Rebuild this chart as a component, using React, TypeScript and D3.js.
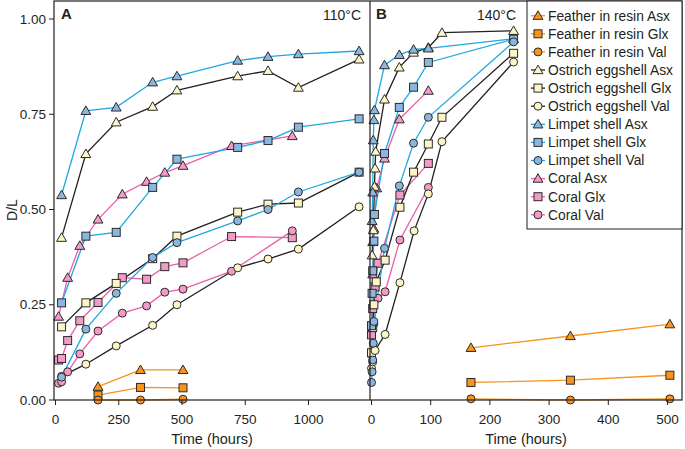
import React from 'react';
import * as d3 from 'd3';

type Pt = [number, number];

// ---------- Panel A (110°C) data: [time hours, D/L] ----------
const featherAsxA: Pt[] = [[168, 0.035], [336, 0.079], [504, 0.079]];
const featherGlxA: Pt[] = [[168, 0.013], [336, 0.033], [504, 0.032]];
const featherValA: Pt[] = [[168, 0.0], [336, 0.0], [504, 0.002]];
const ostrichAsxA: Pt[] = [[24, 0.426], [120, 0.646], [240, 0.729], [384, 0.77], [480, 0.813], [720, 0.85], [840, 0.864], [960, 0.82], [1200, 0.894]];
const ostrichGlxA: Pt[] = [[24, 0.192], [120, 0.255], [240, 0.306], [384, 0.371], [480, 0.43], [720, 0.493], [840, 0.514], [960, 0.517], [1200, 0.598]];
const ostrichValA: Pt[] = [[24, 0.062], [120, 0.094], [240, 0.142], [384, 0.196], [480, 0.25], [720, 0.347], [840, 0.37], [960, 0.396], [1200, 0.507]];
const limpetAsxA: Pt[] = [[24, 0.538], [120, 0.759], [240, 0.768], [384, 0.834], [480, 0.85], [720, 0.891], [840, 0.901], [960, 0.908], [1200, 0.916]];
const limpetGlxA: Pt[] = [[24, 0.255], [120, 0.43], [240, 0.44], [384, 0.558], [480, 0.632], [720, 0.663], [840, 0.681], [960, 0.716], [1200, 0.738]];
const limpetValA: Pt[] = [[24, 0.06], [120, 0.186], [240, 0.28], [384, 0.374], [480, 0.413], [720, 0.47], [840, 0.5], [960, 0.546], [1200, 0.598]];
const coralAsxA: Pt[] = [[12, 0.219], [48, 0.321], [96, 0.405], [168, 0.474], [264, 0.54], [360, 0.573], [432, 0.597], [504, 0.615], [696, 0.667], [936, 0.693]];
const coralGlxA: Pt[] = [[12, 0.105], [24, 0.109], [48, 0.156], [96, 0.208], [168, 0.256], [264, 0.321], [360, 0.317], [432, 0.35], [504, 0.36], [696, 0.429], [936, 0.426]];
const coralValA: Pt[] = [[12, 0.044], [24, 0.048], [48, 0.074], [96, 0.121], [168, 0.181], [264, 0.228], [360, 0.247], [432, 0.283], [504, 0.291], [696, 0.338], [936, 0.444]];

// ---------- Panel B (140°C) data ----------
const featherAsxB: Pt[] = [[168, 0.137], [336, 0.168], [504, 0.199]];
const featherGlxB: Pt[] = [[168, 0.046], [336, 0.052], [504, 0.065]];
const featherValB: Pt[] = [[168, 0.003], [336, 0.0], [504, 0.003]];
const ostrichAsxB: Pt[] = [[1, 0.38], [2, 0.415], [3, 0.446], [5, 0.56], [6, 0.608], [7, 0.652], [22, 0.789], [47, 0.873], [71, 0.912], [96, 0.925], [119, 0.964], [240, 0.969]];
const ostrichGlxB: Pt[] = [[0, 0.124], [2, 0.19], [4, 0.25], [8, 0.31], [23, 0.367], [48, 0.506], [71, 0.598], [96, 0.672], [119, 0.742], [240, 0.91]];
const ostrichValB: Pt[] = [[0, 0.083], [2, 0.1], [6, 0.13], [23, 0.172], [48, 0.308], [72, 0.444], [96, 0.541], [119, 0.678], [240, 0.887]];
const limpetAsxB: Pt[] = [[1, 0.47], [2, 0.545], [3, 0.682], [4, 0.735], [5, 0.761], [22, 0.879], [47, 0.906], [71, 0.92], [96, 0.923], [240, 0.948]];
const limpetGlxB: Pt[] = [[0, 0.195], [1, 0.28], [2, 0.339], [4, 0.417], [5, 0.487], [22, 0.647], [47, 0.768], [71, 0.821], [96, 0.886], [240, 0.947]];
const limpetValB: Pt[] = [[0, 0.046], [1, 0.074], [2, 0.105], [3, 0.149], [4, 0.206], [22, 0.398], [47, 0.562], [71, 0.674], [96, 0.742], [240, 0.94]];
const coralAsxB: Pt[] = [[2, 0.33], [4, 0.45], [9, 0.556], [22, 0.634], [47, 0.737], [96, 0.812]];
const coralGlxB: Pt[] = [[0, 0.171], [2, 0.24], [6, 0.297], [11, 0.359], [48, 0.538], [96, 0.621]];
const coralValB: Pt[] = [[0, 0.12], [4, 0.2], [11, 0.267], [23, 0.284], [48, 0.42], [96, 0.558]];

const seriesNames = [
  'Feather in resin Asx', 'Feather in resin Glx', 'Feather in resin Val',
  'Ostrich eggshell Asx', 'Ostrich eggshell Glx', 'Ostrich eggshell Val',
  'Limpet shell Asx', 'Limpet shell Glx', 'Limpet shell Val',
  'Coral Asx', 'Coral Glx', 'Coral Val',
];
const panelAData: Pt[][] = [featherAsxA, featherGlxA, featherValA, ostrichAsxA, ostrichGlxA, ostrichValA, limpetAsxA, limpetGlxA, limpetValA, coralAsxA, coralGlxA, coralValA];
const panelBData: Pt[][] = [featherAsxB, featherGlxB, featherValB, ostrichAsxB, ostrichGlxB, ostrichValB, limpetAsxB, limpetGlxB, limpetValB, coralAsxB, coralGlxB, coralValB];

const yTicks = [0, 0.25, 0.5, 0.75, 1];
const xTicksA = [0, 250, 500, 750, 1000];
const xTicksB = [0, 100, 200, 300, 400, 500];

// styles
const lineColors = ['#F7941D', '#231F20', '#1FA8E0', '#EC5FA6'];
const fillColors = ['#F7941D', '#FDF5C6', '#8BB6DF', '#F39AC7'];
const shapes = ['tri', 'sq', 'circ'];
const drawOrder = [0, 1, 2, 9, 10, 11, 3, 4, 5, 6, 7, 8];

const FONT = '"Liberation Sans", Arial, Helvetica, sans-serif';

const yScale = d3.scaleLinear().domain([0, 1]).range([400, 19]);
const xA = d3.scaleLinear().domain([0, 1000]).range([55.5, 308.5]);
const xB = d3.scaleLinear().domain([0, 500]).range([371.5, 667.5]);

const triPath = d3.symbol().type(d3.symbolTriangle).size(42)() as string;

function Marker({ shape, x, y, fill }: { shape: string; x: number; y: number; fill: string }) {
  const stroke = '#2b2b2b';
  if (shape === 'tri') return <path d={triPath} transform={`translate(${x},${y + 0.8})`} fill={fill} stroke={stroke} strokeWidth={1} />;
  if (shape === 'sq') return <rect x={x - 4} y={y - 4} width={8} height={8} fill={fill} stroke={stroke} strokeWidth={1} />;
  return <circle cx={x} cy={y} r={4} fill={fill} stroke={stroke} strokeWidth={1} />;
}

function Panel({ data, xs }: { data: Pt[][]; xs: d3.ScaleLinear<number, number> }) {
  const line = d3.line<Pt>().x((d) => xs(d[0])).y((d) => yScale(d[1]));
  return (
    <g>
      {drawOrder.map((i) => (
        <path key={'l' + i} d={line(data[i]) as string} fill="none" stroke={lineColors[Math.floor(i / 3)]} strokeWidth={1.3} />
      ))}
      {drawOrder.map((i) => (
        <g key={'m' + i}>
          {data[i].map((d, j) => (
            <Marker key={j} shape={shapes[i % 3]} x={xs(d[0])} y={yScale(d[1])} fill={fillColors[Math.floor(i / 3)]} />
          ))}
        </g>
      ))}
    </g>
  );
}

export default function App() {
  const fmt = d3.format('.2f');
  const axisColor = '#231F20';
  return (
    <svg width={685} height={449} style={{ position: 'absolute', left: 0, top: 0 }} fontFamily={FONT}>
      <rect x={0} y={0} width={685} height={449} fill="#fff" />
      <Panel data={panelAData} xs={xA} />
      <Panel data={panelBData} xs={xB} />
      {/* frame */}
      <rect x={54} y={1} width={628} height={399} fill="none" stroke={axisColor} strokeWidth={1.2} />
      <line x1={370} x2={370} y1={1} y2={400} stroke={axisColor} strokeWidth={1.2} />
      {/* y axis */}
      {yTicks.map((t) => (
        <g key={t}>
          <line x1={49} x2={54} y1={yScale(t)} y2={yScale(t)} stroke={axisColor} strokeWidth={1} />
          <text x={46} y={yScale(t)} dy="0.35em" textAnchor="end" fontSize={13.5} fill="#231F20">{fmt(t)}</text>
        </g>
      ))}
      <text transform="translate(17,210) rotate(-90)" textAnchor="middle" fontSize={14} fill="#231F20">D/L</text>
      {/* x axes */}
      {xTicksA.map((t) => (
        <g key={'a' + t}>
          <line x1={xA(t)} x2={xA(t)} y1={400} y2={405} stroke={axisColor} strokeWidth={1} />
          <text x={xA(t)} y={424} textAnchor="middle" fontSize={13.5} fill="#231F20">{t}</text>
        </g>
      ))}
      {xTicksB.map((t) => (
        <g key={'b' + t}>
          <line x1={xB(t)} x2={xB(t)} y1={400} y2={405} stroke={axisColor} strokeWidth={1} />
          <text x={xB(t)} y={424} textAnchor="middle" fontSize={13.5} fill="#231F20">{t}</text>
        </g>
      ))}
      <text x={212} y={444} textAnchor="middle" fontSize={14.5} fill="#231F20">Time (hours)</text>
      <text x={526} y={444} textAnchor="middle" fontSize={14.5} fill="#231F20">Time (hours)</text>
      {/* panel labels */}
      <text x={61} y={19} fontSize={15} fontWeight="bold" fill="#231F20">A</text>
      <text x={361} y={20} textAnchor="end" fontSize={14} fill="#231F20">110°C</text>
      <text x={376} y={19} fontSize={15} fontWeight="bold" fill="#231F20">B</text>
      <text x={516} y={20} textAnchor="end" fontSize={14} fill="#231F20">140°C</text>
      {/* legend */}
      <rect x={527} y={1} width={155} height={228} fill="#fff" stroke={axisColor} strokeWidth={1} />
      {seriesNames.map((name, i) => {
        const y = 15.7 + i * 18.1;
        const g = Math.floor(i / 3);
        return (
          <g key={name}>
            <line x1={531} x2={545} y1={y} y2={y} stroke={lineColors[g]} strokeWidth={1.3} />
            <Marker shape={shapes[i % 3]} x={538} y={y} fill={fillColors[g]} />
            <text x={548} y={y} dy="0.35em" fontSize={13.8} fill="#231F20">{name}</text>
          </g>
        );
      })}
    </svg>
  );
}
